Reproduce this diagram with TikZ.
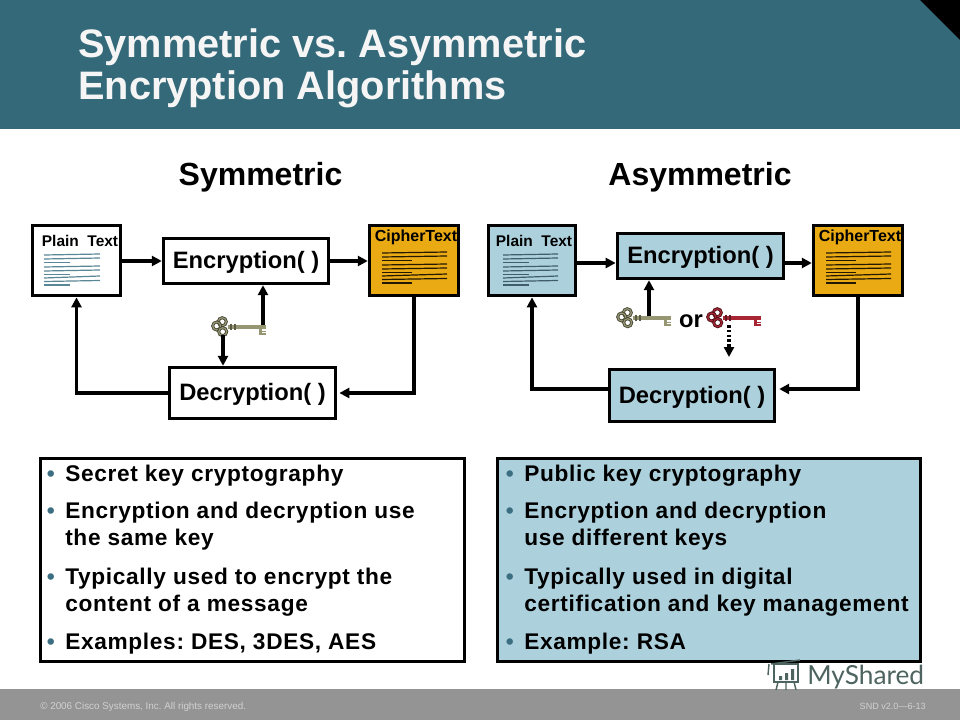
\documentclass[tikz,border=0pt]{standalone}
\usepackage{fontspec}
\setmainfont{Liberation Sans}
\newfontfamily\markfont{Lato}
\usetikzlibrary{arrows.meta,calc}
\definecolor{bandteal}{RGB}{52,105,122}
\definecolor{footgray}{RGB}{148,148,148}
\definecolor{paleblue}{RGB}{172,209,221}
\definecolor{cipheramber}{RGB}{234,170,20}
\definecolor{keyolive}{RGB}{150,150,115}
\definecolor{keyred}{RGB}{168,38,52}
\definecolor{lineblue}{RGB}{90,135,150}
\definecolor{dotblue}{RGB}{60,110,130}
\definecolor{markgray}{RGB}{78,100,96}
\tikzset{
  box/.style={
    draw=black,
    line width=2.3pt,
    inner sep=0pt
  },
  box-white/.style={box, fill=white},
  box-blue/.style={box, fill=paleblue},
  box-amber/.style={box, fill=cipheramber},
  func/.style={
    font=\bfseries\fontsize{17.8}{20}\selectfont,
    text height=13pt,
    text depth=1.5pt
  },
  small/.style={font=\bfseries\fontsize{11.6}{13}\selectfont},
  smallc/.style={font=\bfseries\fontsize{12}{14}\selectfont},
  heading/.style={font=\bfseries\fontsize{24}{28}\selectfont},
  flow/.style={
    line width=2.3pt,
    -{Triangle[length=7.5pt,width=7.5pt]}
  },
  flow-dot/.style={
    flow,
    dash pattern=on 2pt off 1.6pt
  },
  item/.style={
    anchor=north west,
    inner sep=0pt,
    align=left,
    font=\bfseries\fontsize{17}{20.25}\selectfont\addfontfeatures{LetterSpace=3}
  },
  foot/.style={
    text=black!18,
    inner sep=0pt
  }
}
\newcommand{\doclines}[4]{%
  \begin{scope}[shift={(#1,#2)},xscale=#3/56,draw=#4,line width=0.9pt]
    \draw (0,1) -- (56,0);
    \draw (0,5) -- (56,4);
    \draw (0,8.5) -- (26,8.5);
    \draw (0,13) -- (56,12);
    \draw (0,17) -- (56,16);
    \draw (0,20.5) -- (26,20.5);
    \draw (0,24) -- (56,22);
    \draw (0,27.5) -- (56,26.5);
    \draw (0,31) -- (26,31);
  \end{scope}
}
\newcommand{\keyicon}[3]{%
  \begin{scope}[shift={(#1,#2)}]
    \fill[#3] (16,10) rectangle (54,13.5);
    \fill[#3] (46.5,10) rectangle (54,20);
    \fill[white] (50,14.3) rectangle (54,15.5);
    \fill[white] (50,17.2) rectangle (54,18.4);
    \draw[black!40!#3,line width=1.6pt] (19,8.5) -- (19,15) (23,9) -- (23,14.5);
    \foreach \cx/\cy in {10.3/6.7,4.7/11,10.7/16.7} {
      \draw[black!55!#3,line width=2.2pt] (\cx,\cy) circle (4);
      \draw[#3,line width=0.9pt] (\cx,\cy) circle (4);
    }
  \end{scope}
}
\newcommand{\listitem}[4]{%
  \node[item, text=dotblue] at (#1-18.5,#2-15.5) {\rule{0pt}{12pt}•};
  \node[item] (#3) at (#1,#2-16) {\rule{0pt}{12pt}#4};
}

\begin{document}
\frenchspacing
\begin{tikzpicture}[x=0.75pt,y=-0.75pt]
  \useasboundingbox (0,0) rectangle (960,720);
  \fill[white] (0,0) rectangle (960,720);
  \fill[bandteal] (0,0) rectangle (960,129);
  \fill[black] (920,0) -- (960,0) -- (960,40) -- cycle;
  \fill[footgray] (0,689) rectangle (960,720);
  \node[anchor=north west, inner sep=0pt, align=left, text=white!96!black,
    font=\bfseries\fontsize{29.8}{32}\selectfont] (title) at (78,28)
    {Symmetric vs. Asymmetric\\Encryption Algorithms};
  \node[heading] (symhead) at (260.5,177) {Symmetric};
  \node[heading] (asymhead) at (700,177) {Asymmetric};

  \node[box-white, minimum width=65.5pt, minimum height=53pt] (plainL) at (76.5,260.5) {};
  \node[box-white, func, minimum width=124pt, minimum height=34pt] (encL) at (246,261) {Encryption( )};
  \node[box-amber, minimum width=67pt, minimum height=53pt] (ciphL) at (414,260.5) {};
  \node[box-white, func, minimum width=125pt, minimum height=38.5pt] (decL) at (252.5,393) {Decryption( )};
  \node[small] (plainLtxt) at (80,241) {Plain\ \ Text};
  \node[smallc] (ciphLtxt) at (416,237) {CipherText};
  \doclines{44}{254}{56}{lineblue}
  \doclines{382}{252}{65}{black!85!cipheramber}
  \keyicon{212}{315}{keyolive}
  \coordinate (keyLup) at (263,325);
  \coordinate (keyLdown) at (223,335);
  \draw[flow] (plainL.east |- encL.west) -- (encL.west);
  \draw[flow] (encL.east) -- (ciphL.west |- encL.east);
  \draw[flow] (keyLup) -- (keyLup |- encL.south);
  \draw[flow] (keyLdown) -- (keyLdown |- decL.north);
  \draw[flow] (ciphL.south) |- ($(decL.east)+(2,0)$);
  \draw[flow] (decL.west) -| (plainL.south);

  \node[box-blue, minimum width=65pt, minimum height=53pt] (plainR) at (532,260.5) {};
  \node[box-blue, func, minimum width=125pt, minimum height=34pt] (encR) at (700.5,256) {Encryption( )};
  \node[box-amber, minimum width=67pt, minimum height=53pt] (ciphR) at (858,260.5) {};
  \node[box-blue, func, minimum width=124pt, minimum height=38.5pt] (decR) at (692,395.5) {Decryption( )};
  \node[small] (plainRtxt) at (534,241) {Plain\ \ Text};
  \node[smallc] (ciphRtxt) at (860,237) {CipherText};
  \doclines{503}{254}{55}{lineblue!70!black}
  \doclines{826}{252}{65}{black!85!cipheramber}
  \keyicon{617}{306}{keyolive}
  \keyicon{707}{306}{keyred}
  \node[func] (orword) at (691,320) {or};
  \coordinate (keyRup) at (649,316);
  \coordinate (keyRdown) at (729,325);
  \coordinate (keyRend) at (729,357);
  \draw[flow] (plainR.east |- 0,263) -- (encR.west |- 0,263);
  \draw[flow] (encR.east |- 0,263) -- (ciphR.west |- 0,263);
  \draw[flow] (keyRup) -- (keyRup |- encR.south);
  \draw[flow-dot] (keyRdown) -- (keyRend);
  \draw[flow] (ciphR.south) |- ($(decR.east |- 0,389)+(3,0)$);
  \draw[flow] (decR.west |- 0,389) -| (plainR.south);

  \node[box-white, anchor=north west, minimum width=318pt, minimum height=152.5pt] (listL) at (39,456.5) {};
  \node[box-blue, anchor=north west, minimum width=317.5pt, minimum height=152.5pt] (listR) at (496,456.5) {};
  \listitem{65}{481}{secretL}{Secret key cryptography}
  \listitem{65}{518}{sameL}{Encryption and decryption use\\the same key}
  \listitem{65}{584}{typL}{Typically used to encrypt the\\content of a message}
  \listitem{65}{649}{exL}{Examples: DES, 3DES, AES}
  \listitem{524}{481}{publicR}{Public key cryptography}
  \listitem{524}{518}{diffR}{Encryption and decryption\\use different keys}
  \listitem{524}{584}{typR}{Typically used in digital\\certification and key management}
  \listitem{524}{649}{exR}{Example: RSA}

  \node[foot, anchor=west, font=\fontsize{7.4}{9}\selectfont] (copyright) at (40,707) {© 2006 Cisco Systems, Inc. All rights reserved.};
  \node[foot, anchor=east, font=\fontsize{6.8}{8}\selectfont] (version) at (926,706) {SND v2.0—6-13};

  \node[anchor=base west, inner sep=0pt, text=markgray,
    font=\markfont\fontsize{19.7}{22}\selectfont] (mark) at (807,684) {MyShared};
  \begin{scope}[draw=markgray, line width=1.1pt]
    \draw (771,664) -- (800,660);
    \draw (774,664) rectangle (798,682);
    \draw (769,664) -- (768,675);
    \draw (778,682) -- (776,690) (786,682) -- (786,690) (794,682) -- (796,690);
    \fill[markgray] (779,676) rectangle (782,680) (785,673) rectangle (788,680) (791,669) rectangle (794,680);
  \end{scope}
\end{tikzpicture}
\end{document}
